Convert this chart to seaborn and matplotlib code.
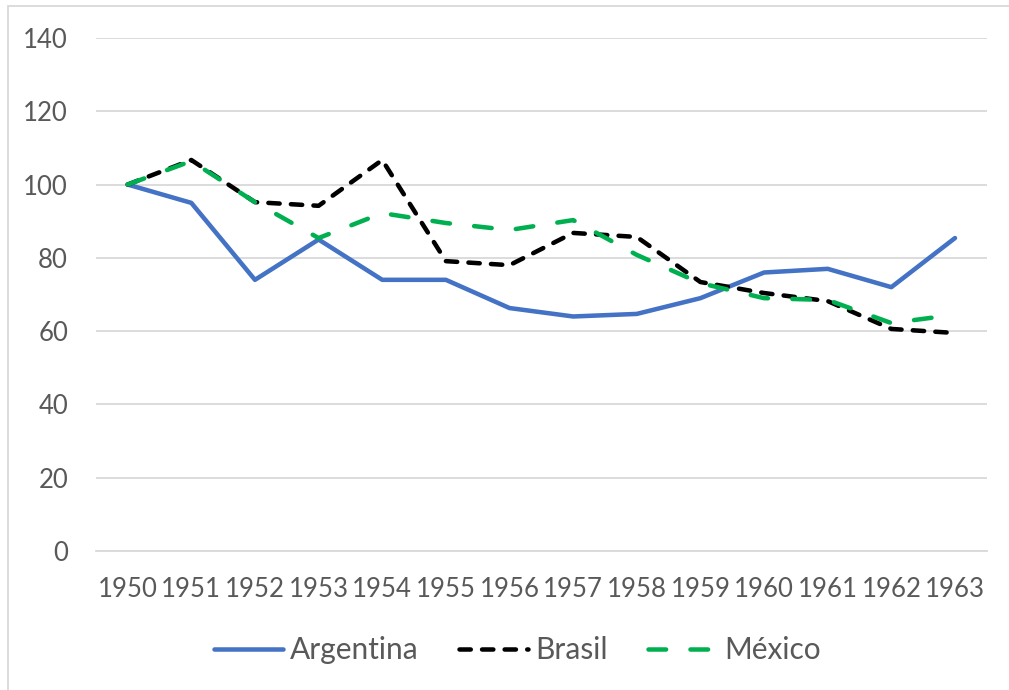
import pandas as pd
import matplotlib.pyplot as plt
import seaborn as sns
from matplotlib.patches import Rectangle

sns.set_theme(style="white")
plt.rcParams['font.family'] = ['Lato', 'DejaVu Sans']

# data (index, 1950 = 100)
years = [1950, 1951, 1952, 1953, 1954, 1955, 1956, 1957, 1958, 1959, 1960, 1961, 1962, 1963]
argentina = [100, 95, 74, 85, 74, 74, 66.3, 64, 64.7, 69, 76, 77, 72, 85.4]
brasil = [100, 106.7, 95.2, 94.2, 106.7, 79.1, 78, 86.8, 85.7, 73.4, 70.4, 68.2, 60.6, 59.5]
mexico = [100, 106.4, 95.2, 85.4, 92.2, 89.5, 87.6, 90.3, 80.8, 73.1, 69, 68.5, 62.2, 64.5]

text_col = '#595959'
grid_col = '#D9D9D9'

fig = plt.figure(figsize=(10.09, 6.90), dpi=100)
ax = fig.add_axes([0.095, 0.2014, 0.883, 0.7436])

lw = 3.25
sns.lineplot(x=years, y=argentina, ax=ax, color='#4472C4', lw=lw,
             label='Argentina', solid_capstyle='round', solid_joinstyle='round')
sns.lineplot(x=years, y=brasil, ax=ax, color='black', lw=lw, label='Brasil',
             dashes=False)
sns.lineplot(x=years, y=mexico, ax=ax, color='#00B050', lw=lw, label='México',
             dashes=False)
lines = ax.get_lines()
lines[1].set_dashes([2.5, 2.5])
lines[2].set_dashes([3.9, 5.4])
for ln in lines[1:]:
    ln.set_dash_capstyle('round')
    ln.set_dash_joinstyle('round')

ax.set_xlim(1949.5, 1963.5)
ax.set_ylim(0, 140)
ax.set_yticks(range(0, 141, 20))
ax.set_xticks(years)
ax.set_xticklabels([str(y) for y in years])
ax.yaxis.grid(True, color=grid_col, lw=1.3)
ax.set_axisbelow(True)
for s in ['top', 'right', 'left']:
    ax.spines[s].set_visible(False)
ax.spines['bottom'].set_color(grid_col)
ax.spines['bottom'].set_linewidth(1.3)
ax.tick_params(axis='both', length=0, labelsize=18.5, labelcolor=text_col)
ax.tick_params(axis='x', pad=19)
ax.tick_params(axis='y', pad=20)

ax.legend_.remove()
leg = fig.legend(handles=lines, labels=['Argentina', 'Brasil', 'México'],
                 loc='center', bbox_to_anchor=(0.513, 0.058), ncol=3, frameon=False,
                 fontsize=21.5, labelcolor=text_col, handlelength=2.3,
                 handletextpad=0.25, columnspacing=1.35)
for h in leg.legend_handles:
    h.set_solid_capstyle('round')

# chart area border
fig.patches.append(Rectangle((8 / 1009, -0.05), 1.2, 1.05 - 6 / 690,
                             transform=fig.transFigure, fill=False,
                             edgecolor=grid_col, lw=1.3))

fig.savefig('out.png', dpi=100)
